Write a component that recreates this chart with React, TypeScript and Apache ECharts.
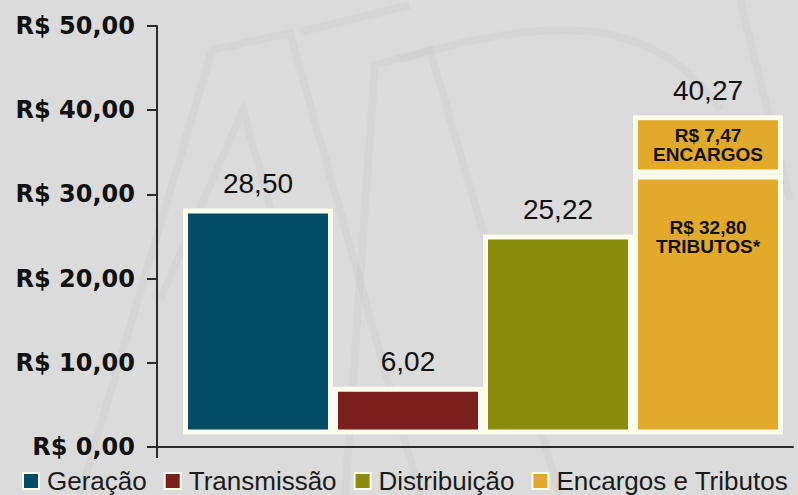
import React, { useEffect, useRef } from 'react';
import * as echarts from 'echarts';

const categories = ['Geração', 'Transmissão', 'Distribuição', 'Encargos e Tributos'];
const geracao = [28.5, '-', '-', '-'];
const transmissao = ['-', 6.02, '-', '-'];
const distribuicao = ['-', '-', 25.22, '-'];
const tributos = ['-', '-', '-', 32.8];
const encargos = ['-', '-', '-', 7.47];
const yTicks = [0, 10, 20, 30, 40, 50];

const colors = ['#034c68', '#7a1f1b', '#8b8c0b', '#e2a92b'];
const fmt = (v: number) => v.toFixed(2).replace('.', ',');
const total = (tributos[3] as number) + (encargos[3] as number);
const totalData = ['-', '-', '-', 0];

export default function App() {
  const ref = useRef<HTMLDivElement>(null);
  useEffect(() => {
    if (!ref.current) return;
    const chart = echarts.init(ref.current, null, { renderer: 'svg' });
    const border = { borderColor: '#fbfbee', borderWidth: 5 };
    const topLabel = {
      show: true,
      position: 'top',
      distance: 11,
      fontFamily: 'Liberation Sans',
      fontSize: 28,
      color: '#111',
      formatter: (p: any) => fmt(p.value),
    };
    const barBase = {
      type: 'bar',
      stack: 'a',
      xAxisIndex: 1,
      yAxisIndex: 1,
      barCategoryGap: '0%',
    };
    const wm = { stroke: 'rgba(0,0,0,0.022)', lineWidth: 8, fill: 'none' };
    chart.setOption({
      animation: false,
      backgroundColor: '#dbdbdb',
      color: colors,
      graphic: [
        { type: 'polyline', z: -10, shape: { points: [[80, 495], [212, 50], [290, 33], [420, 495]] }, style: wm, silent: true },
        { type: 'polyline', z: -10, shape: { points: [[160, 300], [243, 110], [330, 420]] }, style: wm, silent: true },
        { type: 'polyline', z: -10, shape: { points: [[300, 32], [410, 5]] }, style: wm, silent: true },
        { type: 'polyline', z: -10, shape: { points: [[345, 495], [375, 65], [430, 50], [560, 495]] }, style: wm, silent: true },
        { type: 'bezierCurve', z: -10, shape: { x1: 400, y1: 60, x2: 720, y2: 110, cpx1: 560, cpy1: 10, cpx2: 660, cpy2: 20 }, style: wm, silent: true },
        { type: 'line', z: -10, shape: { x1: 740, y1: 0, x2: 790, y2: 200 }, style: wm, silent: true },
        { type: 'line', shape: { x1: 157, y1: 446, x2: 157, y2: 458 }, style: { stroke: '#2a2a2a', lineWidth: 2 }, silent: true },
      ],
      legend: {
        data: categories,
        left: 22,
        right: 0,
        top: 468,
        padding: 0,
        itemWidth: 16,
        itemHeight: 16,
        itemGap: 17,
        icon: 'rect',
        textStyle: {
          fontFamily: 'Liberation Sans',
          fontSize: 26,
          color: '#1a1a1a',
          padding: [0, 0, 0, 3],
        },
      },
      grid: [
        { left: 157, right: 5, top: 26, bottom: 48 },
        { left: 183, right: 15, top: 38, bottom: 60.5 },
      ],
      xAxis: [
        {
          gridIndex: 0,
          type: 'category',
          data: categories,
          axisLine: { show: true, lineStyle: { color: '#2a2a2a', width: 2 } },
          axisTick: { show: false },
          axisLabel: { show: false },
        },
        {
          gridIndex: 1,
          type: 'category',
          data: categories,
          show: false,
        },
      ],
      yAxis: [
        {
          gridIndex: 0,
          type: 'value',
          min: yTicks[0],
          max: yTicks[yTicks.length - 1],
          interval: 10,
          axisLine: { show: true, lineStyle: { color: '#2a2a2a', width: 2 } },
          axisTick: { show: true, length: 10, lineStyle: { color: '#2a2a2a', width: 2 } },
          splitLine: { show: false },
          axisLabel: {
            margin: 22,
            fontFamily: 'DejaVu Sans',
            fontWeight: 'bold',
            fontSize: 24,
            color: '#111',
            formatter: (v: number) => 'R$ ' + fmt(v),
          },
        },
        {
          gridIndex: 1,
          type: 'value',
          min: yTicks[0],
          max: yTicks[yTicks.length - 1],
          show: false,
        },
      ],
      series: [
        { ...barBase, name: categories[0], data: geracao, itemStyle: { color: colors[0], ...border }, label: topLabel },
        { ...barBase, name: categories[1], data: transmissao, itemStyle: { color: colors[1], ...border }, label: topLabel },
        { ...barBase, name: categories[2], data: distribuicao, itemStyle: { color: colors[2], ...border }, label: topLabel },
        {
          ...barBase,
          name: categories[3],
          data: tributos,
          itemStyle: { color: colors[3], ...border },
          label: {
            show: true,
            position: ['50%', 44],
            align: 'center',
            verticalAlign: 'top',
            fontFamily: 'Liberation Sans',
            fontWeight: 'bold',
            fontSize: 19,
            lineHeight: 19,
            color: '#111',
            formatter: (p: any) => 'R$ ' + fmt(p.value) + '\nTRIBUTOS*',
          },
        },
        {
          ...barBase,
          name: categories[3],
          data: encargos,
          itemStyle: { color: colors[3], ...border },
          label: {
            show: true,
            position: 'inside',
            fontFamily: 'Liberation Sans',
            fontWeight: 'bold',
            fontSize: 19,
            lineHeight: 19,
            color: '#111',
            formatter: (p: any) => 'R$ ' + fmt(p.value) + '\nENCARGOS',
          },
        },
        {
          ...barBase,
          name: 'Total',
          data: totalData,
          itemStyle: { color: 'transparent', borderWidth: 0 },
          label: { ...topLabel, formatter: () => fmt(total) },
        },
      ],
    });
    return () => chart.dispose();
  }, []);
  return (
    <div
      ref={ref}
      style={{ position: 'absolute', left: 0, top: 0, width: 798, height: 495 }}
    />
  );
}
